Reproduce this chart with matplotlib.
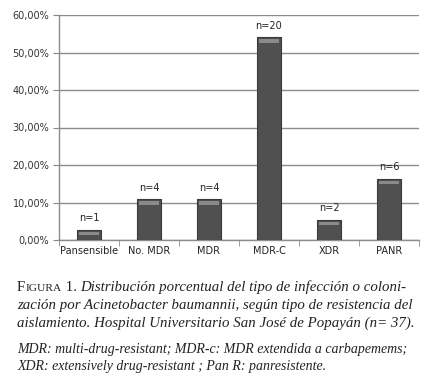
import matplotlib.pyplot as plt
import numpy as np

categories = ['Pansensible', 'No. MDR', 'MDR', 'MDR-C', 'XDR', 'PANR']
counts = [1, 4, 4, 20, 2, 6]
total = 37
percents = [100.0 * c / total for c in counts]
yticks = [0, 10, 20, 30, 40, 50, 60]

caption_lines = [
    'Distribución porcentual del tipo de infección o coloni-',
    'zación por Acinetobacter baumannii, según tipo de resistencia del',
    'aislamiento. Hospital Universitario San José de Popayán (n= 37).',
]
note_lines = [
    'MDR: multi-drug-resistant; MDR-c: MDR extendida a carbapemems;',
    'XDR: extensively drug-resistant ; Pan R: panresistente.',
]

W, H = 434, 386
fig = plt.figure(figsize=(W / 100, H / 100), dpi=100)
ax = fig.add_axes([59 / W, 1 - 240 / H, (419 - 59) / W, (240 - 15) / H])

x = np.arange(len(categories))
bars = ax.bar(x, percents, width=0.4, color='#505050', edgecolor='#3a3a3a',
              linewidth=0.8, zorder=3)
# lighter top bevel
for b in bars:
    ax.bar(b.get_x() + b.get_width() / 2, 0.9, width=b.get_width() * 0.8,
           bottom=b.get_height() - 1.4, color='#8a8a8a', linewidth=0, zorder=4)

for xi, p, c in zip(x, percents, counts):
    ax.text(xi, p + 1.8, 'n=%d' % c, ha='center', va='bottom', fontsize=7,
            family=['DejaVu Sans'], color='#222222')

ax.set_xlim(-0.5, len(categories) - 0.5)
ax.set_ylim(0, 60)
ax.set_yticks(yticks)
ax.set_yticklabels(['%d,00%%' % t for t in yticks], fontsize=7,
                   family=['DejaVu Sans'], color='#333333')
ax.set_xticks(x)
ax.set_xticklabels(categories, fontsize=7, family=['DejaVu Sans'], color='#222222')
ax.set_xticks(np.arange(len(categories) + 1) - 0.5, minor=True)
ax.tick_params(axis='x', which='major', length=0, pad=4)
ax.tick_params(axis='x', which='minor', length=4, color='#888888')
ax.tick_params(axis='y', length=4, color='#888888', pad=3)
ax.grid(axis='y', color='#8c8c8c', linewidth=1.0, zorder=0)
for s in ['top', 'right']:
    ax.spines[s].set_visible(False)
for s in ['left', 'bottom']:
    ax.spines[s].set_color('#8c8c8c')
    ax.spines[s].set_linewidth(1.0)

# caption
serif = 'Liberation Serif'
renderer = fig.canvas.get_renderer()
x0 = 17 / W
y0 = 1 - 291 / H
t1 = fig.text(x0, y0, 'F', fontsize=10.7, family=serif, va='baseline', color='#222222')
w1 = t1.get_window_extent(renderer).width / W
t2 = fig.text(x0 + w1, y0, 'IGURA', fontsize=8.2, family=serif, va='baseline', color='#222222')
w2 = t2.get_window_extent(renderer).width / W
t3 = fig.text(x0 + w1 + w2, y0, ' 1. ', fontsize=10.7, family=serif, va='baseline', color='#222222')
w3 = t3.get_window_extent(renderer).width / W
fig.text(x0 + w1 + w2 + w3, y0, caption_lines[0], fontsize=10.7, family=serif,
         style='italic', va='baseline', color='#222222')
for i, line in enumerate(caption_lines[1:]):
    fig.text(x0, 1 - (309 + 18 * i) / H, line, fontsize=10.7, family=serif,
             style='italic', va='baseline', color='#222222')
for i, line in enumerate(note_lines):
    fig.text(x0, 1 - (353 + 17 * i) / H, line, fontsize=10, family=serif,
             style='italic', va='baseline', color='#222222')

fig.savefig('out.png', dpi=100)
